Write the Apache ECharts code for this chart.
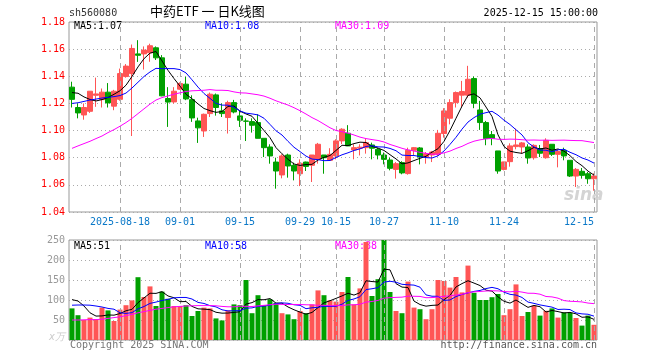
<!DOCTYPE html>
<html><head><meta charset="utf-8">
<script src="https://cdn.jsdelivr.net/npm/echarts@6/dist/echarts.min.js"></script>
<style>html,body{margin:0;padding:0;background:#fff}#c{width:660px;height:360px}</style>
</head><body><div id="c"></div>
<script>
const dates = ['2025-08-06','2025-08-07','2025-08-08','2025-08-11','2025-08-12','2025-08-13','2025-08-14','2025-08-15','2025-08-18','2025-08-19',
'2025-08-20','2025-08-21','2025-08-22','2025-08-25','2025-08-26','2025-08-27','2025-08-28','2025-08-29','2025-09-01','2025-09-02',
'2025-09-03','2025-09-04','2025-09-05','2025-09-08','2025-09-09','2025-09-10','2025-09-11','2025-09-12','2025-09-15','2025-09-16',
'2025-09-17','2025-09-18','2025-09-19','2025-09-22','2025-09-23','2025-09-24','2025-09-25','2025-09-26','2025-09-29','2025-09-30',
'2025-10-09','2025-10-10','2025-10-13','2025-10-14','2025-10-15','2025-10-16','2025-10-17','2025-10-20','2025-10-21','2025-10-22',
'2025-10-23','2025-10-24','2025-10-27','2025-10-28','2025-10-29','2025-10-30','2025-10-31','2025-11-03','2025-11-04','2025-11-05',
'2025-11-06','2025-11-07','2025-11-10','2025-11-11','2025-11-12','2025-11-13','2025-11-14','2025-11-17','2025-11-18','2025-11-19',
'2025-11-20','2025-11-21','2025-11-24','2025-11-25','2025-11-26','2025-11-27','2025-11-28','2025-12-01','2025-12-02','2025-12-03',
'2025-12-04','2025-12-05','2025-12-08','2025-12-09','2025-12-10','2025-12-11','2025-12-12','2025-12-15'];

const opens = [1.132,1.117,1.1115,1.1142,1.126,1.1228,1.1283,1.118,1.123,1.1398,
1.142,1.1565,1.1565,1.1573,1.161,1.1536,1.1236,1.1211,1.1305,1.1342,
1.1228,1.1071,1.0997,1.1125,1.1263,1.1145,1.1096,1.1206,1.1108,1.107,
1.1066,1.1059,1.0943,1.0879,1.0768,1.0673,1.082,1.0744,1.0682,1.0768,
1.0744,1.0788,1.082,1.0781,1.0813,1.0924,1.098,1.0857,1.087,1.0874,
1.0894,1.0862,1.082,1.0783,1.0714,1.0764,1.0683,1.0855,1.0872,1.0805,
1.082,1.0825,1.0978,1.1091,1.1206,1.1261,1.1261,1.1383,1.1152,1.1059,
1.097,1.085,1.0714,1.0771,1.0882,1.0879,1.0879,1.08,1.0867,1.08,
1.0899,1.0825,1.0855,1.0781,1.0665,1.07,1.0682,1.0645];
const closes = [1.123,1.113,1.117,1.129,1.127,1.1283,1.1204,1.129,1.142,1.1475,
1.1605,1.1555,1.1593,1.1625,1.1536,1.1256,1.121,1.129,1.1347,1.1233,
1.1093,1.102,1.112,1.1268,1.117,1.1125,1.1206,1.1137,1.1076,1.1069,
1.1039,1.0943,1.0874,1.0813,1.0702,1.0813,1.0739,1.0702,1.0759,1.0736,
1.082,1.0899,1.08,1.0825,1.0924,1.101,1.0887,1.0874,1.0878,1.0911,
1.087,1.082,1.0788,1.0722,1.0756,1.0688,1.0855,1.0874,1.0805,1.083,
1.0842,1.098,1.1145,1.1206,1.128,1.1288,1.1378,1.1201,1.1059,1.0941,
1.0941,1.0702,1.0769,1.0887,1.0894,1.0909,1.0798,1.0891,1.0833,1.0928,
1.0825,1.0845,1.0813,1.0665,1.0714,1.067,1.0645,1.0665];
const lows = [1.117,1.109,1.108,1.113,1.1175,1.117,1.117,1.115,1.122,1.139,
1.096,1.1506,1.145,1.1507,1.152,1.1253,1.1027,1.12,1.13,1.1224,
1.1064,1.0909,1.0953,1.11,1.111,1.11,1.0978,1.1127,1.1027,1.0923,
1.0985,1.0943,1.0805,1.0756,1.0572,1.0648,1.0653,1.0633,1.0591,1.0702,
1.0621,1.0756,1.0682,1.078,1.0788,1.09,1.0887,1.0788,1.0817,1.083,
1.0788,1.0788,1.0751,1.0707,1.0646,1.0678,1.0675,1.0817,1.0751,1.0756,
1.0768,1.0813,1.0948,1.1046,1.117,1.117,1.1243,1.1165,1.1005,1.0892,
1.0892,1.0682,1.0707,1.0734,1.0862,1.083,1.0756,1.0786,1.0805,1.0793,
1.0813,1.0729,1.0781,1.0658,1.0584,1.0646,1.0608,1.0557];
const highs = [1.136,1.12,1.12,1.129,1.139,1.131,1.135,1.13,1.1457,1.149,
1.1634,1.1666,1.162,1.164,1.162,1.1556,1.132,1.132,1.1355,1.1396,
1.126,1.1095,1.1125,1.128,1.1273,1.12,1.122,1.1226,1.1145,1.109,
1.109,1.112,1.0943,1.0899,1.08,1.0825,1.083,1.0764,1.0788,1.0771,
1.082,1.0909,1.082,1.087,1.0936,1.1017,1.104,1.0899,1.0899,1.0943,
1.0911,1.0874,1.0838,1.08,1.0768,1.0774,1.0874,1.0879,1.0879,1.0842,
1.085,1.1005,1.1165,1.1231,1.1288,1.1366,1.1477,1.1398,1.1219,1.1071,
1.0997,1.085,1.077,1.0906,1.1014,1.0916,1.0899,1.0899,1.0894,1.0943,
1.0899,1.0862,1.0874,1.0781,1.0724,1.0724,1.0695,1.0685];

// volume, 万手
const volumes = [79,62,50,56,52,81,74,47.5,76,87,
99,157,107.5,134,85,121,103,85,85,87,
60,72.5,81,79,54,49,74,89,87,150,
67,112,87,102,93,67,64,52,72.5,67,
89,124,112,99,96,120,157.5,89,129,245,
110,152,250,120,72.5,67,146,81,77,52,
77,150,147.5,131,157.5,119,186,118,100,100,
107,115,62,77,139,60,70,86,61,73,
79,56,69,68,55,36,61,38];

const ma5Head = [1.128,1.1275,1.1248,1.1229];
const ma10Head = [1.12,1.1205,1.1215,1.1225,1.1232,1.124,1.1245,1.125,1.1258];
const ma30Head = [1.0869,1.0887,1.0904,1.0921,1.0941,1.096,1.0985,1.1007,1.1032,1.1059,
1.109,1.1125,1.116,1.1195,1.1225,1.1243,1.1255,1.1268,1.1278,1.1288,
1.1293,1.1295,1.1297,1.1302,1.1297,1.1297,1.1295,1.1285,1.1278];
const vma5Head = [101,97.5,85,68];
const vma10Head = [87,87.5,87.5,87,85,82.5,79,77,68];
const vma30Head = [50,50,50.5,51,51,52,54,56,58,61,64,68,71,74,77,79,81,83,84,85,85.5,86,86,86,85.5,84,83,83,84.5];

const priceTicks = [1.04,1.06,1.08,1.10,1.12,1.14,1.16,1.18];
const volTicks = [0,50,100,150,200,250];
const labelDates = ['2025-08-18','2025-09-01','2025-09-15','2025-09-29','2025-10-15','2025-10-27','2025-11-10','2025-11-24','2025-12-15'];
const priceLegend = ['MA5:1.07','MA10:1.08','MA30:1.09'];
const volLegend = ['MA5:51','MA10:58','MA30:88'];

const RED = '#ff5555', GREEN = '#00a000';
const MONO = '"DejaVu Sans Mono", "Liberation Mono", monospace';

function movingAvg(vals, n, head) {
  return vals.map((v, i) => {
    if (i < n - 1) return head[i];
    let s = 0; for (let j = i - n + 1; j <= i; j++) s += vals[j];
    return +(s / n).toFixed(5);
  });
}
const ma5 = movingAvg(closes, 5, ma5Head);
const ma10 = movingAvg(closes, 10, ma10Head);
const ma30 = movingAvg(closes, 30, ma30Head);
const vma5 = movingAvg(volumes, 5, vma5Head);
const vma10 = movingAvg(volumes, 10, vma10Head);
const vma30 = movingAvg(volumes, 30, vma30Head);

const candleData = dates.map((d, i) => [opens[i], closes[i], lows[i], highs[i]]);
const volData = volumes.map((v, i) => ({ value: v, itemStyle: { color: closes[i] >= opens[i] ? RED : GREEN } }));
const labelSet = new Set(labelDates);

const vLines = {
  silent: true, symbol: ['none', 'none'], animation: false,
  label: { show: false },
  lineStyle: { color: '#aaaaaa', type: [5, 4], width: 1 },
  data: labelDates.map(d => ({ xAxis: d }))
};

function lineSeries(data, color, xi, yi) {
  return { type: 'line', data, xAxisIndex: xi, yAxisIndex: yi, showSymbol: false, symbol: 'none',
    lineStyle: { color, width: 1 }, silent: true, z: 5 };
}

const chart = echarts.init(document.getElementById('c'), null, { renderer: 'canvas' });
chart.setOption({
  animation: false,
  backgroundColor: '#ffffff',
  grid: [
    { left: 69, right: 63, top: 22, height: 190, show: true, borderColor: '#999999', borderWidth: 1 },
    { left: 69, right: 63, top: 240, height: 100, show: true, borderColor: '#999999', borderWidth: 1 }
  ],
  xAxis: [
    { type: 'category', gridIndex: 0, data: dates, boundaryGap: true,
      axisLine: { show: false }, axisTick: { show: false }, splitLine: { show: false },
      axisLabel: { interval: (i, v) => labelSet.has(v), formatter: v => v === '2025-08-18' ? v : v.slice(5),
        alignMaxLabel: 'right',
        color: '#0a78c8', fontFamily: MONO, fontSize: 10, margin: 5 } },
    { type: 'category', gridIndex: 1, data: dates, boundaryGap: true,
      axisLine: { show: false }, axisTick: { show: false }, axisLabel: { show: false }, splitLine: { show: false } }
  ],
  yAxis: [
    { type: 'value', gridIndex: 0, min: priceTicks[0], max: priceTicks[priceTicks.length - 1], interval: 0.02,
      axisLine: { show: false }, axisTick: { show: false },
      splitLine: { show: true, lineStyle: { color: '#aaaaaa', type: [1, 3] } },
      axisLabel: { formatter: v => v.toFixed(2), color: '#ff0000', fontFamily: MONO, fontSize: 10, margin: 4 } },
    { type: 'value', gridIndex: 1, min: volTicks[0], max: volTicks[volTicks.length - 1], interval: 50,
      axisLine: { show: false }, axisTick: { show: false },
      splitLine: { show: true, lineStyle: { color: '#aaaaaa', type: [1, 3] } },
      axisLabel: { formatter: v => v === 0 ? '{u|x万}' : String(v), color: '#999999', fontFamily: MONO, fontSize: 10, margin: 4,
        rich: { u: { color: '#cccccc', fontSize: 10, fontStyle: 'italic', padding: [-6, 0, 0, 0] } } } }
  ],
  series: [
    { type: 'candlestick', xAxisIndex: 0, yAxisIndex: 0, data: candleData, barWidth: 5,
      itemStyle: { color: RED, color0: GREEN, borderColor: RED, borderColor0: GREEN, borderWidth: 1 },
      markLine: vLines, z: 3 },
    lineSeries(ma5, '#000000', 0, 0),
    lineSeries(ma10, '#0000ff', 0, 0),
    lineSeries(ma30, '#ff00ff', 0, 0),
    { type: 'bar', xAxisIndex: 1, yAxisIndex: 1, data: volData, barWidth: 5, markLine: vLines, z: 3 },
    lineSeries(vma5, '#000000', 1, 1),
    lineSeries(vma10, '#0000ff', 1, 1),
    lineSeries(vma30, '#ff00ff', 1, 1)
  ],
  graphic: [
    { type: 'text', left: 69, top: 8, style: { text: 'sh560080', fill: '#333', font: '10px ' + MONO } },
    { type: 'text', left: 150, top: 5, style: { text: '中药ETF 一 日K线图', fill: '#000', font: '13px "Noto Sans CJK SC", sans-serif' } },
    { type: 'text', right: 62, top: 8, style: { text: '2025-12-15 15:00:00', fill: '#000', font: '10px ' + MONO } },
    { type: 'text', left: 74, top: 21, style: { text: priceLegend[0], fill: '#000', font: '10px ' + MONO } },
    { type: 'text', left: 205, top: 21, style: { text: priceLegend[1], fill: '#0000ff', font: '10px ' + MONO } },
    { type: 'text', left: 335, top: 21, style: { text: priceLegend[2], fill: '#ff00ff', font: '10px ' + MONO } },
    { type: 'text', left: 74, top: 241, style: { text: volLegend[0], fill: '#000', font: '10px ' + MONO } },
    { type: 'text', left: 205, top: 241, style: { text: volLegend[1], fill: '#0000ff', font: '10px ' + MONO } },
    { type: 'text', left: 335, top: 241, style: { text: volLegend[2], fill: '#ff00ff', font: '10px ' + MONO } },
    { type: 'text', left: 70, top: 340, style: { text: 'Copyright 2025 SINA.COM', fill: '#777', font: '10px ' + MONO } },
    { type: 'text', right: 63, top: 340, style: { text: 'http://finance.sina.com.cn', fill: '#555', font: '10px ' + MONO } },
    { type: 'text', left: 564, top: 187, z: 1, style: { text: 'sina', fill: '#d4d4d4', font: 'italic bold 17px "DejaVu Sans", sans-serif' } }
  ]
});
</script></body></html>
